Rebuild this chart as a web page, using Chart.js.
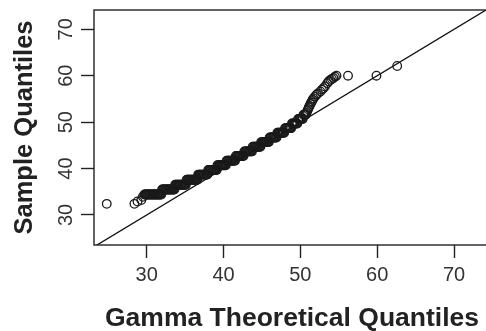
<!DOCTYPE html>
<html>
<head>
<meta charset="utf-8">
<script src="https://cdn.jsdelivr.net/npm/chart.js@4/dist/chart.umd.min.js"></script>
<style>
  html, body { margin: 0; padding: 0; background: #fff; overflow: hidden; }
  #wrap { width: 490px; height: 331px; }
</style>
</head>
<body>
<div id="wrap"><canvas id="myChart" width="490" height="331"></canvas></div>
<script>
// Gamma Q-Q plot

var theoretical = [
  24.8, 28.4, 28.8, 29.3, 29.5,
  29.7, 29.8, 29.9, 30.0, 30.1, 30.2, 30.3, 30.4, 30.5, 30.6,
  30.7, 30.8, 30.9, 31.0, 31.1, 31.2, 31.3, 31.4, 31.5, 31.6,
  31.7, 31.8, 31.9,
  32.0, 32.1, 32.2, 32.3, 32.4, 32.5, 32.6, 32.7, 32.8, 32.9,
  33.0, 33.1, 33.2, 33.3, 33.4, 33.5, 33.6,
  33.7, 33.8, 33.9, 34.0, 34.1, 34.2, 34.3, 34.4, 34.5, 34.6,
  34.7, 34.8, 34.9, 35.0, 35.1,
  35.2, 35.3, 35.4, 35.5, 35.6, 35.7, 35.8, 35.9, 36.0, 36.1,
  36.2, 36.3, 36.4, 36.5, 36.6,
  36.7, 36.8, 36.9, 37.0, 37.1, 37.2, 37.3, 37.4, 37.5, 37.6,
  37.7, 37.8, 37.9,
  38.0, 38.1, 38.2, 38.3, 38.4, 38.5, 38.6, 38.7, 38.8, 38.9,
  39.0, 39.1,
  39.2, 39.3, 39.4, 39.5, 39.6, 39.7, 39.8, 39.9, 40.0, 40.1,
  40.2, 40.3,
  40.4, 40.5, 40.6, 40.7, 40.8, 40.9, 41.0, 41.1, 41.2, 41.3,
  41.4, 41.5,
  41.6, 41.7, 41.8, 41.9, 42.0, 42.1, 42.2, 42.3, 42.4, 42.5,
  42.6,
  42.7, 42.8, 42.9, 43.0, 43.1, 43.2, 43.3, 43.4, 43.5, 43.6,
  43.7,
  43.8, 43.9, 44.0, 44.1, 44.2, 44.3, 44.4, 44.5, 44.6, 44.7,
  44.8,
  44.9, 45.0, 45.1, 45.2, 45.3, 45.4, 45.5, 45.6, 45.7, 45.8,
  45.9,
  46.0, 46.1, 46.2, 46.3, 46.4, 46.5, 46.6, 46.7, 46.8, 46.9,
  47.0, 47.1, 47.2, 47.3, 47.4, 47.5, 47.6, 47.7, 47.8, 47.9,
  48.0, 48.1, 48.2, 48.3, 48.4, 48.5, 48.6, 48.7, 48.8,
  48.9, 49.0, 49.1, 49.2, 49.3, 49.4, 49.5, 49.6,
  49.7, 49.8, 49.9, 50.0, 50.1, 50.2, 50.3,
  50.4, 50.5, 50.6, 50.7,
  50.8, 50.9, 51.0, 51.1, 51.2, 51.3, 51.4, 51.5, 51.6, 51.7,
  51.9, 52.1, 52.3, 52.6, 52.8, 53.0, 53.2, 53.5, 53.7, 53.9,
  54.1, 54.3, 54.5, 54.7, 56.2, 59.9, 62.6
];
var sample = [
  32.4, 32.4, 32.9, 33.2, 33.9,
  34.4, 34.4, 34.4, 34.4, 34.4, 34.4, 34.4, 34.4, 34.4, 34.4,
  34.4, 34.4, 34.4, 34.4, 34.4, 34.4, 34.4, 34.4, 34.4, 34.4,
  34.4, 34.4, 34.4,
  35.5, 35.5, 35.5, 35.5, 35.5, 35.5, 35.5, 35.5, 35.5, 35.5,
  35.5, 35.5, 35.5, 35.5, 35.5, 35.5, 35.5,
  36.5, 36.5, 36.5, 36.5, 36.5, 36.5, 36.5, 36.5, 36.5, 36.5,
  36.5, 36.5, 36.5, 36.5, 36.5,
  37.6, 37.6, 37.6, 37.6, 37.6, 37.6, 37.6, 37.6, 37.6, 37.6,
  37.6, 37.6, 37.6, 37.6, 37.6,
  38.7, 38.7, 38.7, 38.7, 38.7, 38.7, 38.7, 38.7, 38.7, 38.7,
  38.7, 38.7, 38.7,
  39.7, 39.7, 39.7, 39.7, 39.7, 39.7, 39.7, 39.7, 39.7, 39.7,
  39.7, 39.7,
  40.7, 40.7, 40.7, 40.7, 40.7, 40.7, 40.7, 40.7, 40.7, 40.7,
  40.7, 40.7,
  41.7, 41.7, 41.7, 41.7, 41.7, 41.7, 41.7, 41.7, 41.7, 41.7,
  41.7, 41.7,
  42.7, 42.7, 42.7, 42.7, 42.7, 42.7, 42.7, 42.7, 42.7, 42.7,
  42.7,
  43.7, 43.7, 43.7, 43.7, 43.7, 43.7, 43.7, 43.7, 43.7, 43.7,
  43.7,
  44.7, 44.7, 44.7, 44.7, 44.7, 44.7, 44.7, 44.7, 44.7, 44.7,
  44.7,
  45.7, 45.7, 45.7, 45.7, 45.7, 45.7, 45.7, 45.7, 45.7, 45.7,
  45.7,
  46.7, 46.7, 46.7, 46.7, 46.7, 46.7, 46.7, 46.7, 46.7, 46.7,
  47.7, 47.7, 47.7, 47.7, 47.7, 47.7, 47.7, 47.7, 47.7, 47.7,
  48.7, 48.7, 48.7, 48.7, 48.7, 48.7, 48.7, 48.7, 48.7,
  49.7, 49.7, 49.7, 49.7, 49.7, 49.7, 49.7, 49.7,
  50.7, 50.7, 50.7, 50.7, 50.7, 50.7, 50.7,
  51.6, 51.6, 51.6, 51.6,
  52.0, 52.4, 52.8, 53.2, 53.5, 53.9, 54.2, 54.5, 54.8, 55.1,
  55.5, 55.9, 56.2, 56.6, 57.0, 57.3, 57.7, 58.4, 58.8, 59.1,
  59.3, 59.5, 59.8, 60.0, 60.0, 60.0, 62.1
];

// reference line y = x
var lineX = [20, 80];
var lineY = [20, 80];

var xTicks = [30, 40, 50, 60, 70];
var yTicks = [30, 40, 50, 60, 70];

var points = [];
for (var i in theoretical) {
  points.push({x: theoretical[i], y: sample[i]});
}
var refLine = [];
for (var j in lineX) {
  refLine.push({x: lineX[j], y: lineY[j]});
}

// box round the plot region
var boxPlugin = {
  id: "box",
  afterDraw: function(chart) {
    var a = chart.chartArea;
    var ctx = chart.ctx;
    ctx.save();
    ctx.strokeStyle = "#222";
    ctx.lineWidth = 1.4;
    ctx.strokeRect(a.left, a.top, a.right - a.left, a.bottom - a.top);
    ctx.restore();
  }
};

var font = "'Liberation Sans', Arial, Helvetica, sans-serif";

const config = {
  type: "scatter",
  data: {
    datasets: [
      {
        label: "line",
        type: "line",
        data: refLine,
        borderColor: "#111",
        borderWidth: 1.3,
        pointRadius: 0,
        fill: false,
        order: 2
      },
      {
        label: "Sample",
        data: points,
        pointStyle: "circle",
        pointRadius: 4.3,
        pointBorderWidth: 1.3,
        borderColor: "#1a1a1a",
        backgroundColor: "rgba(0,0,0,0)",
        order: 1
      }
    ]
  },
  options: {
    responsive: false,
    animation: false,
    devicePixelRatio: 1,
    layout: { autoPadding: false, padding: { top: 10, left: 0, right: 0, bottom: 0 } },
    plugins: {
      legend: { display: false },
      tooltip: { enabled: false }
    },
    scales: {
      x: {
        type: "linear",
        min: 23.14,
        max: 74.68,
        afterFit: function(s) { s.height = 86; s.paddingLeft = 0; s.paddingRight = 0; },
        afterBuildTicks: function(s) { s.ticks = xTicks.map(function(v) { return {value: v}; }); },
        border: { display: false },
        grid: { drawOnChartArea: false, drawTicks: true, tickLength: 13, tickColor: "#222", tickWidth: 1.4 },
        ticks: { color: "#333", padding: 5, maxRotation: 0, font: { family: font, size: 20 } },
        title: {
          display: true,
          text: "Gamma Theoretical Quantiles",
          color: "#222",
          padding: { top: 0, bottom: 0 },
          font: { family: font, size: 26.5, weight: "bold", lineHeight: 0.9 }
        }
      },
      y: {
        type: "linear",
        min: 23.53,
        max: 74.16,
        afterFit: function(s) { s.width = 94; s.paddingTop = 0; s.paddingBottom = 0; },
        afterBuildTicks: function(s) { s.ticks = yTicks.map(function(v) { return {value: v}; }); },
        border: { display: false },
        grid: { drawOnChartArea: false, drawTicks: true, tickLength: 13, tickColor: "#222", tickWidth: 1.4 },
        ticks: { color: "#333", padding: 3, minRotation: 90, maxRotation: 90, crossAlign: "center", font: { family: font, size: 20 } },
        title: {
          display: true,
          text: "Sample Quantiles",
          color: "#222",
          padding: { top: 12, bottom: 0 },
          font: { family: font, size: 25.5, weight: "bold", lineHeight: 1 }
        }
      }
    }
  },
  plugins: [boxPlugin]
};

const myChart = new Chart(document.getElementById("myChart"), config);
</script>
</body>
</html>
